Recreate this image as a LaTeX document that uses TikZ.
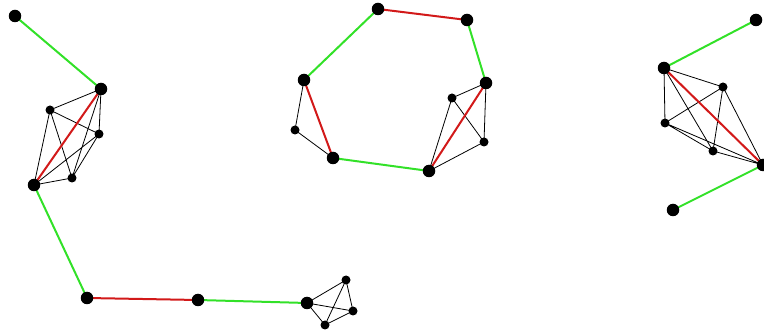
\documentclass[tikz,border=0pt]{standalone}
\usetikzlibrary{backgrounds}
\definecolor{egreen}{RGB}{50,225,40}
\definecolor{ered}{RGB}{210,25,25}
\tikzset{
  big/.style={circle,fill=black,inner sep=0pt,minimum size=12.5pt},
  small/.style={circle,fill=black,inner sep=0pt,minimum size=9pt},
  gedge/.style={draw=egreen,line width=2pt},
  redge/.style={draw=ered,line width=2pt},
  kedge/.style={draw=black,line width=0.8pt},
}
\begin{document}
\begin{tikzpicture}[x=1pt,y=-1pt]
\useasboundingbox (0,0) rectangle (764,331);
% left component
\node[big] (A1) at (15,16) {};
\node[big] (A2) at (101,89) {};
\node[small] (a) at (50,110) {};
\node[small] (b) at (99,134) {};
\node[small] (c) at (72,178) {};
\node[big] (A3) at (34,185) {};
\node[big] (A4) at (87,298) {};
\node[big] (A5) at (198,300) {};
\node[big] (A6) at (307,303) {};
\node[small] (d) at (346,280) {};
\node[small] (e) at (353,311) {};
\node[small] (f) at (325,325) {};
% middle component
\node[big] (B1) at (378,9) {};
\node[big] (B2) at (467,20) {};
\node[big] (B3) at (486,83) {};
\node[small] (g) at (452,98) {};
\node[small] (h) at (484,142) {};
\node[big] (B4) at (429,171) {};
\node[big] (B5) at (333,158) {};
\node[small] (i) at (295,130) {};
\node[big] (B6) at (304,80) {};
% right component
\node[big] (C1) at (756,20) {};
\node[big] (C2) at (664,68) {};
\node[small] (j) at (723,87) {};
\node[small] (k) at (665,123) {};
\node[small] (l) at (713,151) {};
\node[big] (C3) at (763,165) {};
\node[big] (C4) at (673,210) {};
\begin{pgfonlayer}{background}
% left
\draw[kedge] (A2.center) -- (a.center) (A2.center) -- (b.center) (A2.center) -- (c.center)
  (a.center) -- (b.center) (a.center) -- (c.center) (a.center) -- (A3.center)
  (b.center) -- (c.center) (b.center) -- (A3.center) (c.center) -- (A3.center);
\draw[gedge] (A1.center) -- (A2.center);
\draw[redge] (A2.center) -- (A3.center);
\draw[gedge] (A3.center) -- (A4.center);
\draw[redge] (A4.center) -- (A5.center);
\draw[gedge] (A5.center) -- (A6.center);
\draw[kedge] (A6.center) -- (d.center) (A6.center) -- (e.center) (A6.center) -- (f.center)
  (d.center) -- (e.center) (d.center) -- (f.center) (e.center) -- (f.center);
% middle
\draw[kedge] (B3.center) -- (g.center) (B3.center) -- (h.center) (g.center) -- (h.center)
  (g.center) -- (B4.center) (h.center) -- (B4.center)
  (B6.center) -- (i.center) (i.center) -- (B5.center);
\draw[redge] (B1.center) -- (B2.center);
\draw[gedge] (B2.center) -- (B3.center);
\draw[redge] (B3.center) -- (B4.center);
\draw[gedge] (B4.center) -- (B5.center);
\draw[redge] (B5.center) -- (B6.center);
\draw[gedge] (B6.center) -- (B1.center);
% right
\draw[kedge] (C2.center) -- (j.center) (C2.center) -- (k.center) (C2.center) -- (l.center)
  (j.center) -- (k.center) (j.center) -- (l.center) (j.center) -- (C3.center)
  (k.center) -- (l.center) (k.center) -- (C3.center) (l.center) -- (C3.center);
\draw[gedge] (C1.center) -- (C2.center);
\draw[redge] (C2.center) -- (C3.center);
\draw[gedge] (C3.center) -- (C4.center);
\end{pgfonlayer}
\end{tikzpicture}
\end{document}
